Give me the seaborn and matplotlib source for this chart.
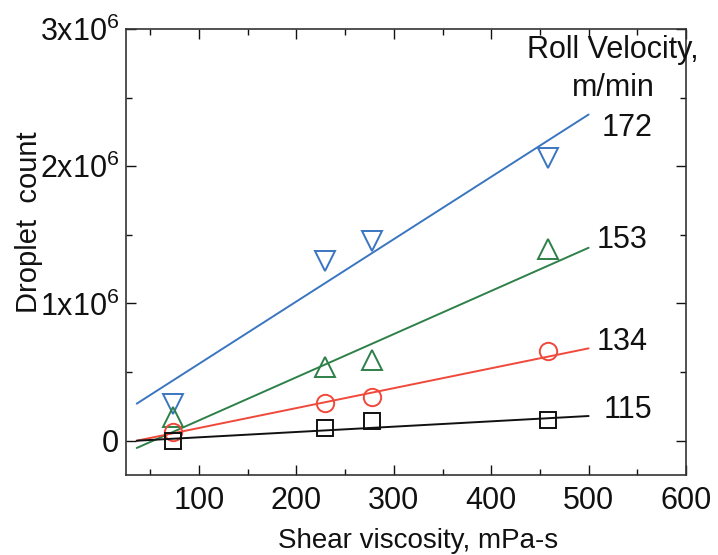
import numpy as np
import pandas as pd
import matplotlib
matplotlib.use("Agg")
import matplotlib.pyplot as plt
import seaborn as sns
from matplotlib.ticker import MultipleLocator, FixedLocator, FixedFormatter

sns.set_style("ticks")
plt.rcParams['font.family'] = ['Liberation Sans', 'DejaVu Sans']
plt.rcParams['mathtext.default'] = 'regular'

# Data (shear viscosity, mPa-s vs droplet count)
velocities = ["172", "153", "134", "115"]
visc = [73, 229, 278, 458]
count_172 = [0.267e6, 1.31e6, 1.455e6, 2.06e6]
count_153 = [0.17e6, 0.54e6, 0.585e6, 1.395e6]
count_134 = [0.06e6, 0.272e6, 0.316e6, 0.653e6]
count_115 = [0.0, 0.09e6, 0.146e6, 0.15e6]

# Fitted lines (endpoints)
fit_x = [36, 500]
fit_172 = [0.27e6, 2.377e6]
fit_153 = [-0.053e6, 1.406e6]
fit_134 = [0.0, 0.673e6]
fit_115 = [0.0, 0.18e6]

colors = ["#3a76c0", "#2e8049", "#f0483a", "#111111"]
markers = ["v", "^", "o", "s"]
msizes = [14.5, 14.5, 12.5, 11]
series = [count_172, count_153, count_134, count_115]
fits = [fit_172, fit_153, fit_134, fit_115]
label_pos = [(539, 2.277e6), (534, 1.462e6), (534, 0.721e6), (540, 0.224e6)]

yticks = [0, 1e6, 2e6, 3e6]
ytick_labels = ["0", "1x10$^{6}$", "2x10$^{6}$", "3x10$^{6}$"]
xticks = [100, 200, 300, 400, 500, 600]

fig = plt.figure(figsize=(7.18, 5.55), dpi=100)
ax = fig.add_axes([0.1755, 0.1441, 0.7799, 0.8036])

for v, ys, fy, c, m, ms in zip(velocities, series, fits, colors, markers, msizes):
    sns.lineplot(x=fit_x, y=fy, ax=ax, color=c, linewidth=1.4, legend=False)
    sns.lineplot(x=visc, y=ys, ax=ax, color=c, marker=m, linestyle="", markersize=ms,
                 markerfacecolor="none", markeredgecolor=c, markeredgewidth=1.4, legend=False)

for v, (tx, ty) in zip(velocities, label_pos):
    ax.text(tx, ty, v, fontsize=22, ha="center", va="center", color="#111111")

ax.text(525, 2.846e6, "Roll Velocity,", fontsize=22, ha="center", va="center", color="#111111")
ax.text(525, 2.569e6, "m/min", fontsize=22, ha="center", va="center", color="#111111")

ax.set_xlim(25, 600)
ax.set_ylim(-0.25e6, 3e6)
ax.xaxis.set_major_locator(FixedLocator(xticks))
ax.xaxis.set_minor_locator(MultipleLocator(50))
ax.yaxis.set_major_locator(FixedLocator(yticks))
ax.yaxis.set_major_formatter(FixedFormatter(ytick_labels))
ax.yaxis.set_minor_locator(MultipleLocator(0.5e6))

ax.tick_params(which="both", direction="in", top=True, right=True, colors="#111111",
               labelsize=22, width=1.0)
ax.tick_params(which="major", length=7)
ax.tick_params(which="minor", length=4)
ax.tick_params(axis="x", pad=8)
ax.tick_params(axis="y", pad=5)
for s in ax.spines.values():
    s.set_visible(True)
    s.set_linewidth(1.2)
    s.set_color("#333333")

ax.set_xlabel("Shear viscosity, mPa-s", fontsize=20, color="#111111")
ax.set_ylabel("Droplet  count", fontsize=21, color="#111111")
ax.xaxis.label.set_va("baseline")
ax.xaxis.set_label_coords(0.521, -0.1637)
ax.yaxis.set_label_coords(-0.148, 0.567)

fig.savefig("out.png", dpi=100)
